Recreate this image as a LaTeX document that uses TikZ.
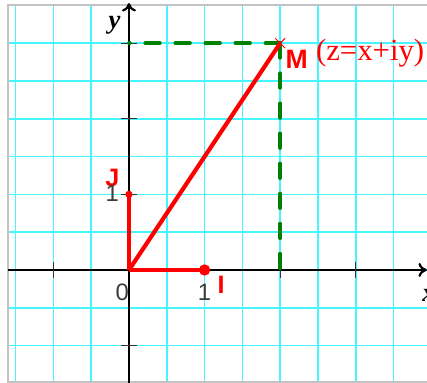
\documentclass[tikz,border=0pt]{standalone}
\usepackage{fontspec}
\setmainfont{Liberation Serif}
\setsansfont{Liberation Sans}
\usepackage{tikz}
\usetikzlibrary{arrows.meta}
\definecolor{gridcyan}{RGB}{70,245,255}
\definecolor{darkgreen}{RGB}{0,128,0}
\definecolor{framegray}{RGB}{195,195,195}
\definecolor{labelgray}{RGB}{60,60,60}

\begin{document}
\begin{tikzpicture}[
    x=1.9cm,y=1.9cm,
    gridline/.style={gridcyan,line width=1.2pt},
    axis/.style={black,line width=1.6pt,-{To[length=6pt,width=10pt]}},
    tick/.style={black!80,line width=0.8pt},
    vec/.style={red,line width=3pt},
    proj/.style={darkgreen,line width=2.6pt,line cap=round,dash pattern=on 10.5pt off 11pt},
    ptname/.style={red,font=\sffamily\bfseries\fontsize{18}{20}\selectfont},
    num/.style={labelgray,font=\sffamily\fontsize{17}{19}\selectfont},
    axname/.style={font=\bfseries\itshape\fontsize{19}{21}\selectfont}
]
\useasboundingbox (-1.706,-1.495) rectangle (3.942,3.571);
% grid and frame
\draw[gridline,step=0.5] (-1.6,-1.481) grid (3.95,3.505);
\draw[framegray,line width=0.9pt] (4.2,3.505) -- (-1.6,3.505) -- (-1.6,-1.481) -- (4.2,-1.481);

% axes and ticks
\draw[axis] (-1.6,0) -- (3.94,0);
\draw[axis] (0,-1.5) -- (0,3.53);
\foreach \t in {-1,2,3}
    \draw[tick] (\t,-0.1) -- (\t,0.1);
\foreach \t in {-1,1,2,3}
    \draw[tick] (-0.1,\t) -- (0.1,\t);

% points
\coordinate (O) at (0,0);
\coordinate (I) at (1,0);
\coordinate (J) at (0,1);
\coordinate (M) at (2,3);
\coordinate (My) at (0,3);
\coordinate (Mx) at (2,0);

\draw[proj] (M) -- (My);
\draw[proj] (M) -- (Mx);
\draw[vec] (O) -- (I);
\draw[vec] (O) -- (J);
\draw[vec] (O) -- (M);
\fill[red] (I) circle (0.075);
\fill[red] (J) circle (0.048);
\draw[red,line width=0.7pt] ([shift={(-0.065,-0.065)}]M) -- ([shift={(0.065,0.065)}]M);
\draw[red,line width=0.7pt] ([shift={(-0.065,0.065)}]M) -- ([shift={(0.065,-0.065)}]M);

% labels
\node[ptname] (Jl) at (-0.22,1.22) {J};
\node[ptname] (Il) at (1.22,-0.2) {I};
\node[ptname,font=\sffamily\bfseries\fontsize{19}{21}\selectfont] (Ml) at (2.22,2.79) {M};
\node[red,font=\fontsize{22}{25}\selectfont] (zl) at (3.19,2.87) {(z=x+iy)};
\node[num] (o) at (-0.09,-0.29) {0};
\node[num] (ix) at (1,-0.29) {1};
\node[num] (jy) at (-0.22,1.02) {1};
\node[axname] (xl) at (3.97,-0.33) {x};
\node[axname] (yl) at (-0.19,3.24) {y};
\end{tikzpicture}
\end{document}
